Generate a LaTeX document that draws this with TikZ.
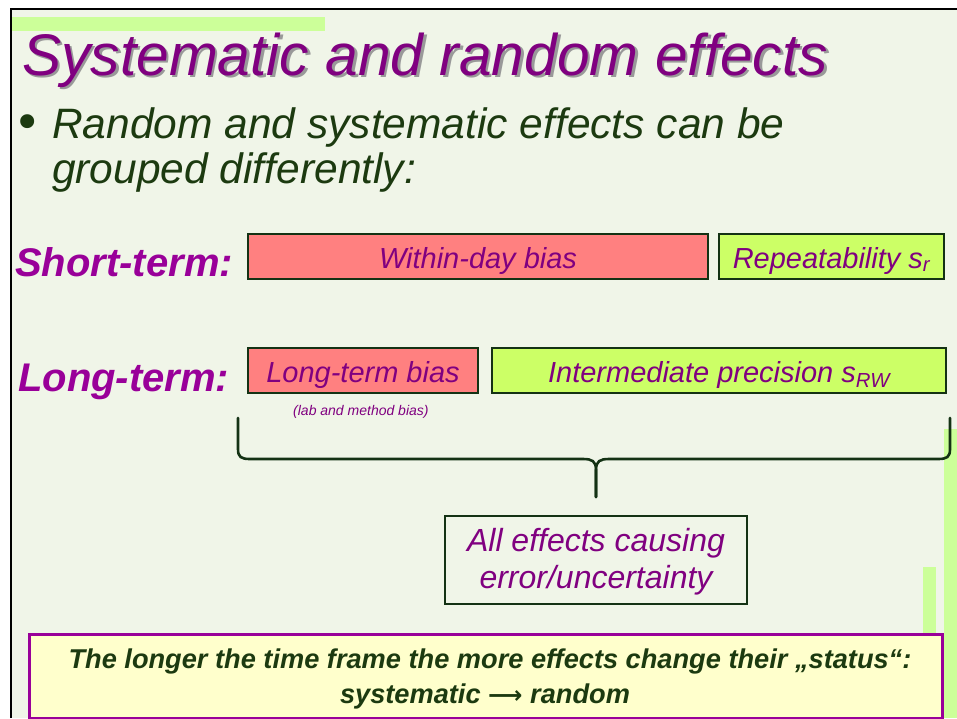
\documentclass[tikz,border=0pt]{standalone}
\usepackage{fontspec}
\setmainfont{Liberation Sans}
\newfontfamily\arrowfont{DejaVu Sans}
\definecolor{bgc}{RGB}{240,245,232}
\definecolor{barg}{RGB}{204,255,153}
\definecolor{tpurple}{RGB}{128,0,128}
\definecolor{lpurple}{RGB}{153,0,153}
\definecolor{dgreen}{RGB}{28,58,16}
\definecolor{bordg}{RGB}{20,50,20}
\definecolor{redbox}{RGB}{255,128,128}
\definecolor{greenbox}{RGB}{204,255,102}
\definecolor{notefill}{RGB}{255,255,204}
\newcommand{\titletext}{Systematic and random effects}
\tikzset{
  txt/.style={inner sep=0pt, anchor=base west},
  effbox/.style={draw=bordg, line width=2pt, anchor=north west, inner sep=0pt,
    text=tpurple, font=\fontsize{29}{31}\selectfont\itshape,
    text height=23.5pt, text depth=0.5pt},
  lbl/.style={inner sep=0pt, anchor=base west, text=lpurple,
    font=\fontsize{40}{42}\selectfont\bfseries\itshape},
  brace/.style={draw=bordg, line width=2.6pt, line cap=round},
}
\begin{document}
\begin{tikzpicture}[x=1pt,y=-1pt]
\useasboundingbox (0,0) rectangle (957,718);
\fill[white] (0,0) rectangle (957,718);
\fill[bgc] (10,9) rectangle (957,718);
\draw[black, line width=2pt] (11,718) -- (11,9) -- (957,9);
% decorative bars
\fill[barg] (12,17) rectangle (325,31);
\fill[barg] (944,429) rectangle (957,718);
\fill[barg] (923,567) rectangle (936,718);
% title with shadow
\node[txt, text=tpurple] (title) at (22,75) {\fontsize{58.7}{60}\selectfont\itshape
  \makebox[0pt][l]{\hspace{2.5pt}\raisebox{-2.5pt}{\color{black!40}\titletext}}\titletext};
% bullet
\node[txt, text=dgreen] (bullet) at (13,139) {\arrowfont\fontsize{48}{50}\selectfont •};
\node[txt, text=dgreen] (b1) at (52,138) {\fontsize{42.5}{44}\selectfont\itshape Random and systematic effects can be};
\node[txt, text=dgreen] (b2) at (52,183) {\fontsize{42.5}{44}\selectfont\itshape grouped differently:};
% labels
\node[lbl] (st) at (15,276) {Short-term:};
\node[lbl] (lt) at (18,391) {Long-term:};
% boxes
\node[effbox, fill=redbox, minimum width=460pt, minimum height=45pt] (wdb) at (247,233) {Within-day bias};
\node[effbox, fill=greenbox, minimum width=225pt, minimum height=45pt] (rep) at (718,233) {Repeatability s\textsubscript{r}};
\node[effbox, fill=redbox, minimum width=230pt, minimum height=45pt] (ltb) at (247,347) {Long-term bias};
\node[effbox, fill=greenbox, minimum width=454pt, minimum height=45pt] (ip) at (491,347) {Intermediate precision s\textsubscript{RW}};
\node[txt, text=tpurple] (lmb) at (293,415) {\fontsize{14}{16}\selectfont\itshape (lab and method bias)};
% brace
\coordinate (bl) at (238,418);
\coordinate (br) at (950,418);
\coordinate (bt) at (596,497);
\draw[brace] (bl) -- (238,449) .. controls (238,457) and (241,459) .. (250,459) -- (583,459)
  .. controls (592,459) and (596,461) .. (596,470) -- (bt);
\draw[brace] (br) -- (950,449) .. controls (950,457) and (947,459) .. (938,459) -- (609,459)
  .. controls (600,459) and (596,461) .. (596,470) -- (bt);
% all effects
\node[draw=bordg, line width=2pt, anchor=north west, minimum width=302pt, minimum height=88pt,
  inner sep=0pt] (all) at (444,515) {};
\node[inner sep=0pt, text=tpurple, align=center, font=\fontsize{32}{37}\selectfont\itshape] (alltxt) at ([yshift=-2pt]all.center) {All effects causing\\error/uncertainty};
% note
\node[draw=lpurple, line width=3pt, fill=notefill, anchor=north west, minimum width=913pt,
  minimum height=84pt, inner sep=0pt] (note) at (28,633) {};
\node[inner sep=0pt, anchor=base, text=dgreen] (n1) at (490,668) {\fontsize{27.2}{30}\selectfont\bfseries\itshape The longer the time frame the more effects change their „status“:};
\node[inner sep=0pt, anchor=base, text=dgreen] (n2) at (485,703) {\fontsize{27.2}{30}\selectfont\bfseries\itshape systematic {\arrowfont\fontsize{24}{30}\selectfont ⟶} random};
\end{tikzpicture}
\end{document}
